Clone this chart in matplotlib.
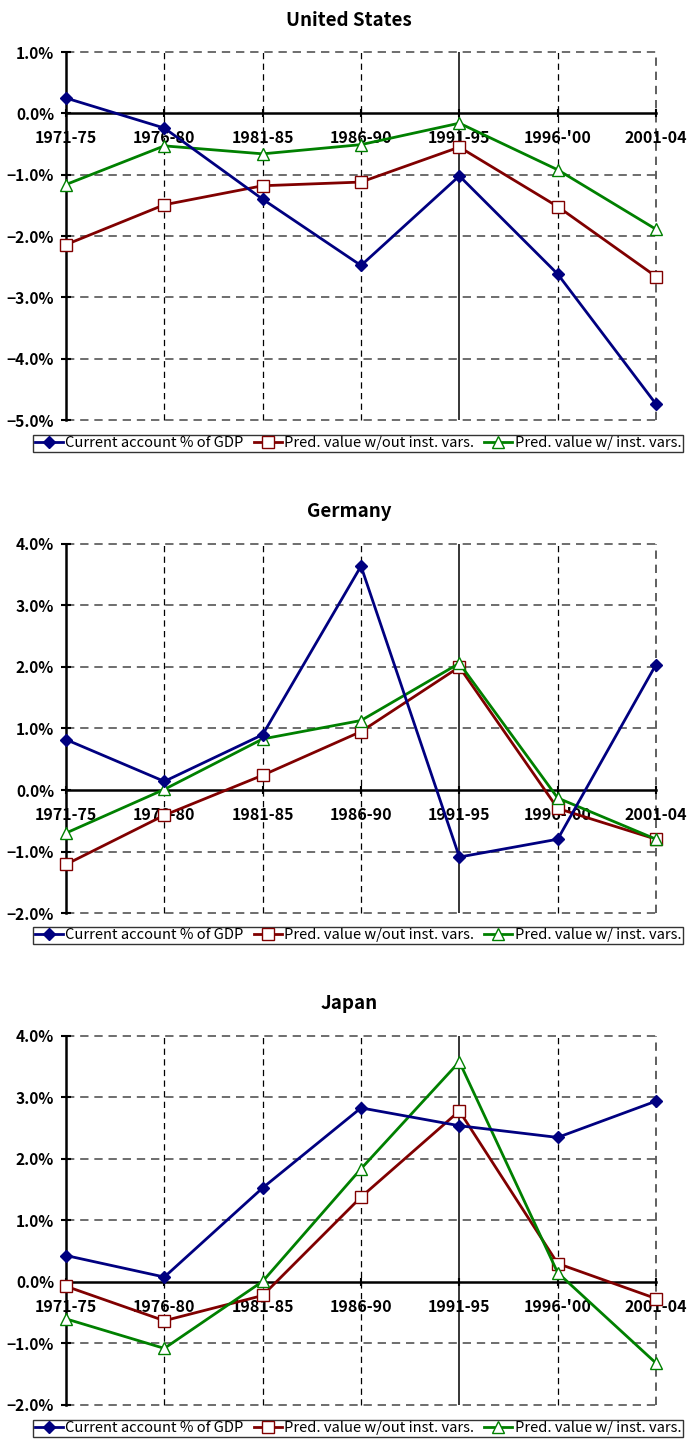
import matplotlib.pyplot as plt
from matplotlib.ticker import FuncFormatter


periods = ["1971-75", "1976-80", "1981-85", "1986-90", "1991-95", "1996-'00", "2001-04"]

us_current = [0.25, -0.24, -1.40, -2.48, -1.02, -2.62, -4.74]
us_pred_without = [-2.14, -1.49, -1.18, -1.12, -0.55, -1.52, -2.66]
us_pred_with = [-1.16, -0.53, -0.66, -0.51, -0.16, -0.92, -1.89]

de_current = [0.82, 0.14, 0.90, 3.64, -1.09, -0.80, 2.04]
de_pred_without = [-1.21, -0.41, 0.24, 0.95, 2.00, -0.30, -0.80]
de_pred_with = [-0.70, 0.01, 0.83, 1.13, 2.06, -0.13, -0.80]

jp_current = [0.43, 0.08, 1.53, 2.83, 2.54, 2.35, 2.94]
jp_pred_without = [-0.07, -0.63, -0.22, 1.38, 2.78, 0.30, -0.27]
jp_pred_with = [-0.60, -1.08, 0.01, 1.84, 3.58, 0.15, -1.32]

labels = ["Current account % of GDP", "Pred. value w/out inst. vars.", "Pred. value w/ inst. vars."]

plt.rcParams["font.family"] = ["Noto Sans CJK JP", "DejaVu Sans"]

fig = plt.figure(figsize=(6.91, 14.41), dpi=100)

panels = [
  ("United States", us_current, us_pred_without, us_pred_with, (-5, 1), 0.9639, 0.7085, 0.9861, 0.6974),
  ("Germany", de_current, de_pred_without, de_pred_with, (-2, 4), 0.6225, 0.3664, 0.6447, 0.3560),
  ("Japan", jp_current, jp_pred_without, jp_pred_with, (-2, 4), 0.2811, 0.0250, 0.3033, 0.0139),
]

pct = FuncFormatter(lambda v, p: ("%.1f%%" % v).replace("-", "\u2212"))

for title, cur, pw, pn, ylim, top, bottom, ty, ly in panels:
  ax = fig.add_axes([0.0955, bottom, 0.8539, top - bottom])
  x = range(len(periods))

  ax.axvline(4, color="black", lw=1.1, zorder=1)
  l1, = ax.plot(x, cur, color="#000080", lw=2, marker="D", ms=6, zorder=5, clip_on=False)
  l2, = ax.plot(x, pw, color="#800000", lw=2, marker="s", ms=8, mfc="white", mec="#800000",
                mew=1, zorder=4, clip_on=False)
  l3, = ax.plot(x, pn, color="#008000", lw=2, marker="^", ms=8, mfc="white", mec="#008000",
                mew=1, zorder=4, clip_on=False)

  ax.set_xlim(0, 6)
  ax.set_ylim(*ylim)
  ax.set_yticks(range(ylim[0], ylim[1] + 1))
  ax.yaxis.set_major_formatter(pct)
  ax.set_xticks(list(x))
  ax.set_xticklabels(periods)

  for v in range(ylim[0], ylim[1] + 1):
    if v != 0:
      ax.axhline(v, color="#555555", lw=1.2, ls=(0, (5, 3.5)), zorder=0, clip_on=False)
  for i in range(1, 7):
    if i != 4:
      ax.axvline(i, color="#444444" if i == 6 else "black", lw=1.2 if i == 6 else 0.9,
                 ls=(0, (5, 3.5)), zorder=0, clip_on=False)

  ax.spines["top"].set_visible(False)
  ax.spines["right"].set_visible(False)
  ax.spines["left"].set_linewidth(1.8)
  ax.spines["bottom"].set_position(("data", 0))
  ax.spines["bottom"].set_linewidth(1.8)
  ax.spines["bottom"].set_zorder(3)

  ax.tick_params(axis="x", direction="inout", length=6, width=1.5, pad=9, labelsize=11.5)
  ax.tick_params(axis="y", direction="inout", length=7, width=1.5, pad=5, labelsize=11.2)
  for t in ax.get_xticklabels() + ax.get_yticklabels():
    t.set_fontweight("bold")

  fig.text(0.505, ty, title, ha="center", va="center", fontsize=13.5, fontweight="bold")

  leg = fig.legend([l1, l2, l3], labels, loc="upper left", bbox_to_anchor=(33 / 691, ly, 650 / 691, 0.001),
                   mode="expand", ncol=3, fontsize=10.6, frameon=True, fancybox=False,
                   edgecolor="black", handlelength=1.9, handletextpad=0.15, columnspacing=0.35,
                   borderpad=0.12, borderaxespad=0)
  leg.get_frame().set_linewidth(1)

fig.savefig("out.png", dpi=100)
